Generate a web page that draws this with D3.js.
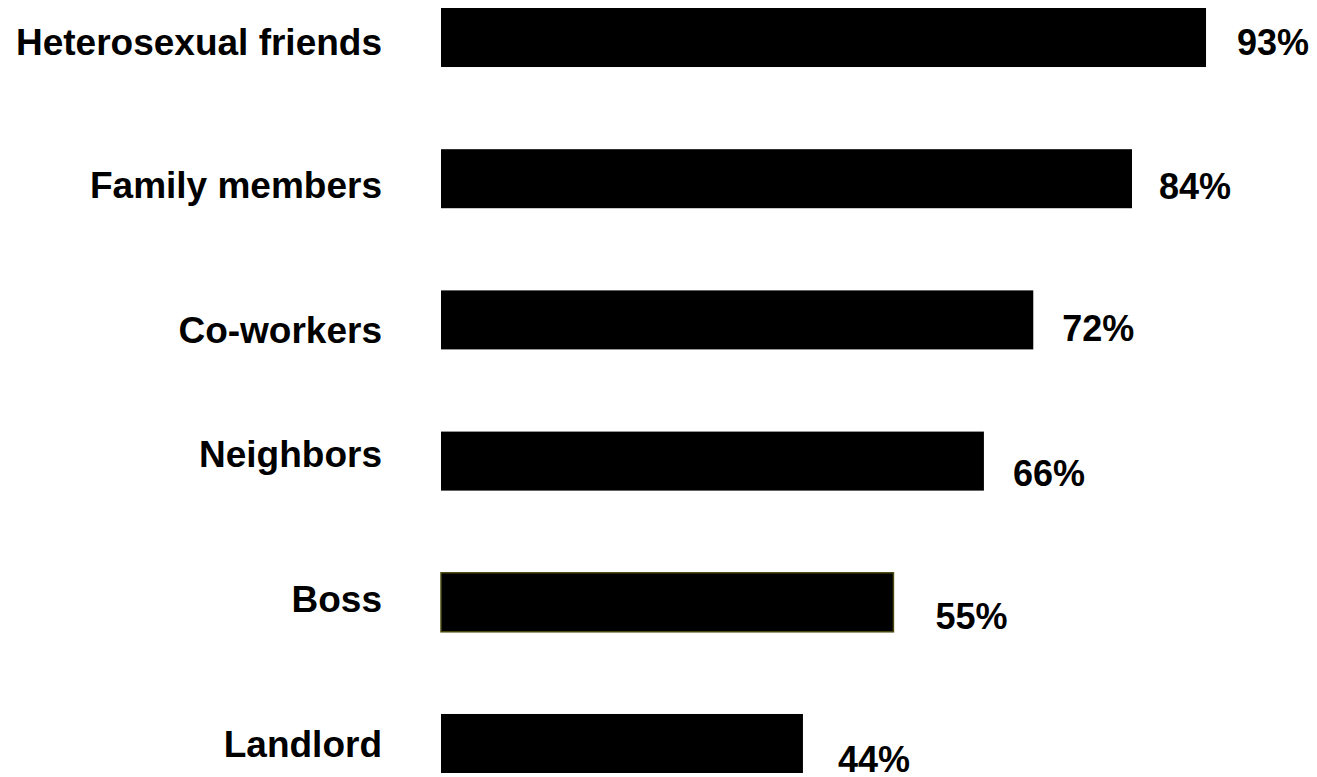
<!DOCTYPE html>
<html>
<head>
<meta charset="utf-8">
<script src="https://cdn.jsdelivr.net/npm/d3@7"></script>
<style>
html,body{margin:0;padding:0;background:#fff;}
svg{display:block;}
text{font-family:"Liberation Sans",Arial,sans-serif;font-weight:bold;fill:#000;}
</style>
</head>
<body>
<script>
const categories = ["Heterosexual friends","Family members","Co-workers","Neighbors","Boss","Landlord"];
const values = [93,84,72,66,55,44];
const valueLabels = ["93%","84%","72%","66%","55%","44%"];

// layout tweaks (label nudges relative to bar)
const catDy = [17,19,23,6,10,14];
const valDx = [31,27,29,29,42,35];
const valDy = [17,20,21.5,25,27,29];

const W = 1317, H = 777;
const svg = d3.select("body").append("svg").attr("width",W).attr("height",H);

const x = d3.scaleLinear().domain([0,100]).range([441, 441+822.6]);
const y = d3.scaleBand().domain(categories).range([8,773]).paddingInner(0.582).paddingOuter(0);

svg.selectAll("rect.bar").data(categories).enter().append("rect")
  .attr("class","bar")
  .attr("x", x(0))
  .attr("y", d=>y(d))
  .attr("width", (d,i)=>x(values[i])-x(0))
  .attr("height", y.bandwidth())
  .attr("fill","#000")
  .attr("stroke", d=> d==="Boss" ? "#4a4a10" : "none")
  .attr("stroke-width", 1.5);

svg.selectAll("text.cat").data(categories).enter().append("text")
  .attr("class","cat")
  .attr("x", 382)
  .attr("y", (d,i)=>y(d)+y.bandwidth()/2+catDy[i])
  .attr("text-anchor","end")
  .attr("font-size","37px")
  .text(d=>d);

svg.selectAll("text.val").data(categories).enter().append("text")
  .attr("class","val")
  .attr("x", (d,i)=>x(values[i])+valDx[i])
  .attr("y", (d,i)=>y(d)+y.bandwidth()/2+valDy[i])
  .attr("font-size","36px")
  .text((d,i)=>valueLabels[i]);
</script>
</body>
</html>
